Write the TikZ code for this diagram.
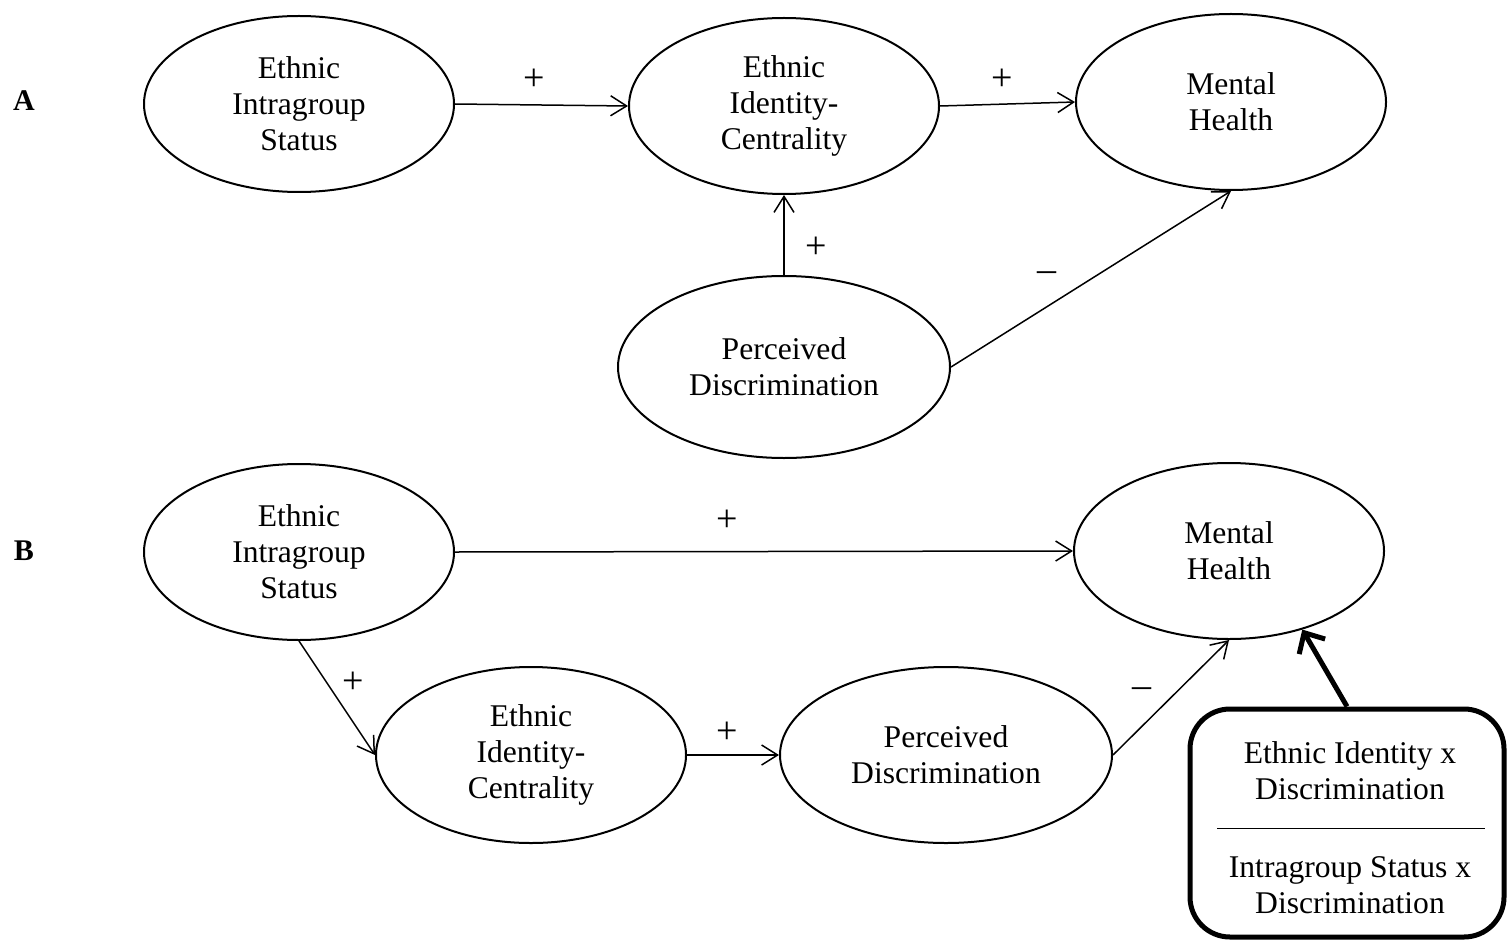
\documentclass[tikz,border=0pt]{standalone}
\usepackage{fontspec}
\setmainfont{Liberation Serif}
\usetikzlibrary{shapes.geometric,arrows.meta}
\begin{document}
\begin{tikzpicture}[x=0.5pt,y=-0.5pt,
  txt/.style={font=\fontsize{15.8}{18}\selectfont},
  ell/.style={txt,draw,ellipse,line width=1pt,inner sep=0pt,align=center},
  norm/.style={ell,minimum width=155pt,minimum height=88pt},
  wide/.style={ell,minimum width=166pt,minimum height=88pt},
  arr/.style={line width=0.75pt,-{Straight Barb[length=8pt,width=10pt]}},
  thickarr/.style={line width=2.5pt,-{Straight Barb[length=8pt,width=15pt]}},
  sgn/.style={font=\fontsize{19}{20}\selectfont,inner sep=0pt},
  panel/.style={font=\fontsize{15}{18}\selectfont\bfseries,inner sep=0pt},
  modbox/.style={draw,line width=2.5pt,rounded corners=20pt,minimum width=157pt,minimum height=114pt,inner sep=0pt},
  modtxt/.style={txt,align=center,inner sep=0pt}
]
\useasboundingbox (0,0) rectangle (1507,941);

% Panel A
\node[panel] (la) at (24,101) {A};
\node[norm] (EISa) at (299,104) {Ethnic\\Intragroup\\Status};
\node[norm] (EICa) at (784,106) {Ethnic\\Identity-\\Centrality};
\node[norm] (MHa) at (1231,102) {Mental\\Health};
\node[wide,minimum height=91pt] (PDa) at (784,367) {Perceived\\Discrimination};

\draw[arr] (EISa.east) -- (EICa.west);
\draw[arr] (EICa.east) -- (MHa.west);
\draw[arr] (PDa.north) -- (EICa.south);
\draw[arr] (PDa.east) -- (MHa.south);

\node[sgn] (sa1) at (534,80) {+};
\node[sgn] (sa2) at (1002,80) {+};
\node[sgn] (sa3) at (816,248) {+};
\node[sgn] (sa4) at (1047,277) {--};

% Panel B
\node[panel] (lb) at (24,551) {B};
\node[norm] (EISb) at (299,552) {Ethnic\\Intragroup\\Status};
\node[norm] (MHb) at (1229,551) {Mental\\Health};
\node[norm] (EICb) at (531,755) {Ethnic\\Identity-\\Centrality};
\node[wide] (PDb) at (946,755) {Perceived\\Discrimination};

\node[modbox] (box) at (1347,823) {};
\node[modtxt] (mt1) at (1350,771) {Ethnic Identity x\\Discrimination};
\node[modtxt] (mt2) at (1350,885) {Intragroup Status x\\Discrimination};
\coordinate (r1) at (1217,828);
\coordinate (r2) at (1485,828);
\draw[line width=0.5pt] (r1) -- (r2);

\draw[arr] (EISb.east) -- (MHb.west);
\draw[arr] (EISb.south) -- (EICb.west);
\draw[arr] (EICb.east) -- (PDb.west);
\draw[arr] (PDb.east) -- (MHb.south);
\draw[thickarr] (box.north) -- (MHb.-47);

\node[sgn] (sb1) at (727,521) {+};
\node[sgn] (sb2) at (353,683) {+};
\node[sgn] (sb3) at (727,733) {+};
\node[sgn] (sb4) at (1142,693) {--};
\end{tikzpicture}
\end{document}
